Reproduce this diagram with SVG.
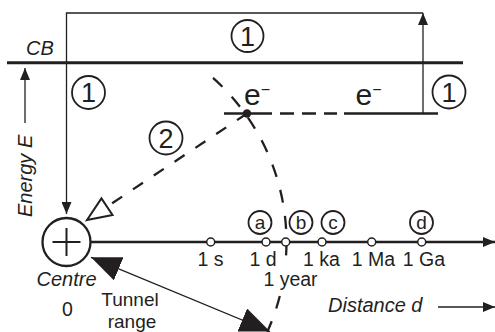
<svg xmlns="http://www.w3.org/2000/svg" width="495" height="332" viewBox="0 0 495 332">
<defs>
<style>
text{font-family:"Liberation Sans",Arial,sans-serif;fill:#231f20}
.lbl{font-size:19.5px;text-anchor:middle}
.it{font-size:20px;font-style:italic}
.num{font-size:27px;text-anchor:middle}
.let{font-size:19px;text-anchor:middle}
.e{font-size:30px}
.sup{font-size:16px}
.ln{stroke:#231f20;fill:none;stroke-width:1.3}
.bold{stroke:#231f20;fill:none;stroke-width:3}
.lvl{stroke:#231f20;fill:none;stroke-width:2.5}
.dash{stroke:#231f20;fill:none;stroke-width:2.3;stroke-dasharray:13 13.5}
.ring{stroke:#231f20;fill:#fff;stroke-width:1.8}
.tick{stroke:#231f20;fill:#fff;stroke-width:1.5}
</style>
<marker id="ah" viewBox="0 0 12 10" refX="12" refY="5" markerWidth="12" markerHeight="10" markerUnits="userSpaceOnUse" orient="auto"><path d="M0,0L12,5L0,10z" fill="#231f20"/></marker>
<marker id="big" viewBox="0 0 30 25" refX="30" refY="12.5" markerWidth="30" markerHeight="25" markerUnits="userSpaceOnUse" orient="auto-start-reverse"><path d="M0,0L30,12.5L0,25z" fill="#231f20"/></marker>
<marker id="open" viewBox="-2 -2 28 24" refX="24" refY="10" markerWidth="28" markerHeight="24" markerUnits="userSpaceOnUse" orient="auto" overflow="visible"><path d="M0,0L24,10L0,20z" fill="#fff" stroke="#231f20" stroke-width="2" stroke-dasharray="none"/></marker>
</defs>
<rect width="495" height="332" fill="#fff"/>

<g id="connectors">
  <path class="bold" d="M7,62.7H463"/>
  <path class="ln" d="M423,113.5V13" marker-end="url(#ah)"/>
  <path class="ln" d="M423,13H66.5V214" marker-end="url(#ah)"/>
  <path class="ln" d="M25,123V68" marker-end="url(#ah)"/>
  <path class="ln" d="M438,307H495" marker-end="url(#ah)"/>
  <path class="lvl" d="M224,113.5H272M280,113.5H294M302,113.5H316M324,113.5H337M344,113.5H438"/>
  <path class="dash" d="M213,77.9A220,220 0 0 1 285.9,258"/>
  <path class="dash" d="M279.8,296A220,220 0 0 1 267.2,332"/>
  <path class="dash" style="stroke-dasharray:12 13" d="M247,113.5L87,220" marker-end="url(#open)"/>
  <path class="lvl" d="M90.5,242H495" marker-end="url(#ah)"/>
  <path class="ln" d="M91,257.3L270,331.5" marker-start="url(#big)" marker-end="url(#big)"/>
</g>

<g id="cb-label"><text class="it" x="26" y="55">CB</text></g>
<g id="energy-label"><text class="it" transform="translate(32,217) rotate(-90)">Energy E</text></g>

<g id="trap-dot"><circle cx="247" cy="113.5" r="4.2" fill="#231f20"/></g>
<g id="electron-1"><text class="e" x="244" y="104.5">e<tspan class="sup" dy="-9.8">−</tspan></text></g>
<g id="electron-2"><text class="e" x="355.5" y="104.5">e<tspan class="sup" dy="-9.8">−</tspan></text></g>

<g id="step-1-top"><circle class="ring" cx="247.5" cy="36" r="16"/><text class="num" x="247.5" y="45.5">1</text></g>
<g id="step-1-left"><circle class="ring" cx="88.5" cy="92.5" r="16.5"/><text class="num" x="88.5" y="102">1</text></g>
<g id="step-1-right"><circle class="ring" cx="449" cy="92" r="16.5"/><text class="num" x="449" y="101.5">1</text></g>
<g id="step-2"><circle class="ring" cx="166" cy="138" r="16.5"/><text class="num" x="166" y="147.5">2</text></g>

<g id="centre">
  <circle cx="66.5" cy="242" r="24" fill="#fff" stroke="#231f20" stroke-width="2.3"/>
  <path d="M52.5,242H80.5M66.5,228V256" stroke="#231f20" stroke-width="2"/>
  <text class="it" x="66.5" y="286" text-anchor="middle">Centre</text>
  <text class="lbl" x="67.5" y="316">0</text>
</g>

<g id="ticks">
  <circle class="tick" cx="210.7" cy="242" r="4"/>
  <circle class="tick" cx="266" cy="242" r="4"/>
  <circle class="tick" cx="285.7" cy="242" r="4"/>
  <circle class="tick" cx="322" cy="242" r="4"/>
  <circle class="tick" cx="371.7" cy="242" r="4"/>
  <circle class="tick" cx="421.7" cy="242" r="4"/>
  <text class="lbl" x="210.5" y="265.5">1 s</text>
  <text class="lbl" x="263" y="265.5">1 d</text>
  <text class="lbl" x="290.5" y="285.5">1 year</text>
  <text class="lbl" x="321.5" y="265.5">1 ka</text>
  <text class="lbl" x="373.5" y="265.5">1 Ma</text>
  <text class="lbl" x="424" y="265.5">1 Ga</text>
</g>

<g id="mark-a"><circle class="ring" cx="260" cy="222.5" r="11.5"/><text class="let" x="260" y="228.5">a</text></g>
<g id="mark-b"><circle class="ring" cx="301" cy="222.5" r="11.5"/><text class="let" x="301" y="228.5">b</text></g>
<g id="mark-c"><circle class="ring" cx="333" cy="222.5" r="11.5"/><text class="let" x="333" y="228.5">c</text></g>
<g id="mark-d"><circle class="ring" cx="421.5" cy="222.5" r="11.5"/><text class="let" x="421.5" y="228.5">d</text></g>

<g id="tunnel-label">
  <text class="lbl" style="font-size:19px" x="130" y="305.5">Tunnel</text>
  <text class="lbl" style="font-size:19px" x="132" y="328">range</text>
</g>
<g id="distance-label"><text class="it" x="328" y="312">Distance d</text></g>
</svg>
